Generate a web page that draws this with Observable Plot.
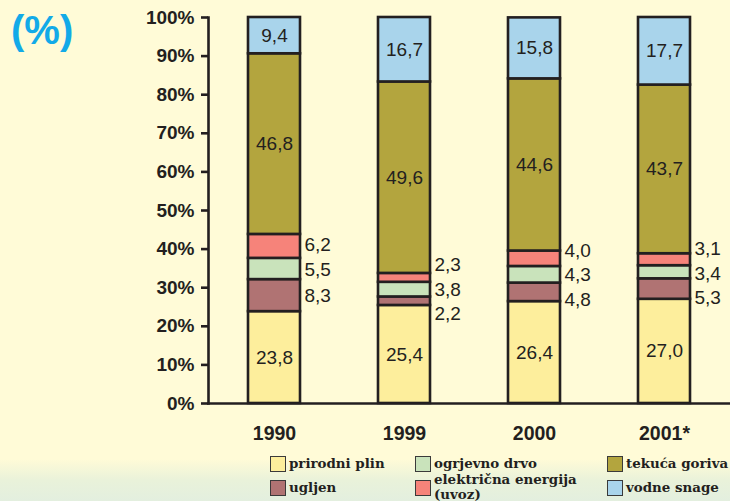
<!DOCTYPE html>
<html>
<head>
<meta charset="utf-8">
<script src="https://cdn.jsdelivr.net/npm/d3@7"></script>
<script src="https://cdn.jsdelivr.net/npm/@observablehq/plot@0.6"></script>
<style>
  html, body { margin: 0; padding: 0; }
  #wrap { position: relative; width: 730px; height: 501px; background: #fffbd7; overflow: hidden; font-family: "Liberation Sans", Arial, sans-serif; }
  #pct { position: absolute; left: 11px; top: 8px; font: bold 40px "Liberation Sans", Arial, sans-serif; color: #12aae8; }
  #legend { position: absolute; left: 0; top: 450px; width: 730px; height: 51px;
    background: linear-gradient(#fffbd7 0%, #fffbd7 18%, #e9f2da 60%, #e3efdf 100%); }
  .li { position: absolute; font: bold 13.4px "DejaVu Serif", "Liberation Serif", serif; color: #231f20; line-height: 15px; white-space: nowrap; }
  .sw { position: absolute; width: 14px; height: 14px; border: 1.5px solid #3a3a3a; }
</style>
</head>
<body>
<div id="wrap">
  <div id="chart"></div>
  <div id="pct">(%)</div>
  <div id="legend"></div>
</div>
<script>
const years = ["1990", "1999", "2000", "2001*"];
const series = ["prirodni plin", "ugljen", "ogrjevno drvo", "električna energija (uvoz)", "tekuća goriva", "vodne snage"];
const prirodniPlin = [23.8, 25.4, 26.4, 27.0];
const ugljen = [8.3, 2.2, 4.8, 5.3];
const ogrjevnoDrvo = [5.5, 3.8, 4.3, 3.4];
const elektricnaEnergija = [6.2, 2.3, 4.0, 3.1];
const tekucaGoriva = [46.8, 49.6, 44.6, 43.7];
const vodneSnage = [9.4, 16.7, 15.8, 17.7];
const yTicks = [0, 10, 20, 30, 40, 50, 60, 70, 80, 90, 100];
const colors = ["#fdee9c", "#b07373", "#c9e3bb", "#f6837a", "#b3a53e", "#a9d4eb"];
const insideSeries = ["prirodni plin", "tekuća goriva", "vodne snage"];

const values = [prirodniPlin, ugljen, ogrjevnoDrvo, elektricnaEnergija, tekucaGoriva, vodneSnage];

const W = 730, H = 450, ML = 208, MR = 0, MT = 17, MB = 47;
const step = (W - ML - MR) / years.length;
const plotH = H - MT - MB;
const tickLen = 8 * 100 / plotH;

const rows = [];
years.forEach((yr, i) => {
  series.forEach((s, j) => rows.push({year: yr, series: s, value: values[j][i]}));
});

const fmt = v => v.toFixed(1).replace(".", ",");
const inside = [], side = [];
years.forEach((yr, i) => {
  let acc = 0;
  const sideRow = [];
  series.forEach((s, j) => {
    const v = values[j][i];
    const mid = acc + v / 2;
    acc += v;
    const lab = {year: yr, series: s, y: mid, text: fmt(v)};
    if (insideSeries.includes(s)) inside.push(lab); else sideRow.push(lab);
  });
  const gap = 6.4;
  for (let it = 0; it < 50; it++) {
    for (let k = 1; k < sideRow.length; k++) {
      const d = sideRow[k].y - sideRow[k - 1].y;
      if (d < gap) {
        const push = (gap - d) / 2;
        sideRow[k].y += push;
        sideRow[k - 1].y -= push;
      }
    }
  }
  side.push(...sideRow);
});

const ink = "#231f20";
const chart = Plot.plot({
  width: W, height: H,
  marginLeft: ML, marginRight: MR, marginTop: MT, marginBottom: MB,
  style: {background: "transparent", fontFamily: "'Liberation Sans', Arial, sans-serif", color: ink},
  x: {domain: years, paddingInner: 0.6, paddingOuter: 0.3, label: null},
  y: {domain: [0, 100], clamp: true, label: null},
  color: {domain: series, range: colors},
  marks: [
    Plot.barY(rows, {x: "year", y: "value", fill: "series", stroke: ink, strokeWidth: 2.6}),
    Plot.frame({anchor: "left", stroke: ink, strokeWidth: 2.6}),
    Plot.frame({anchor: "bottom", stroke: ink, strokeWidth: 2.6}),
    Plot.ruleX(years, {x: d => d, dx: -step / 2, y1: 0, y2: -tickLen, stroke: ink, strokeWidth: 2.6}),
    Plot.ruleX(years.slice(-1), {x: d => d, dx: step / 2 - 1, y1: 0, y2: -tickLen, stroke: ink, strokeWidth: 2.6}),
    Plot.axisY({ticks: yTicks, tickSize: 7, tickPadding: 7, tickFormat: d => d + "%", fontSize: 19, fontWeight: "bold", color: ink, strokeWidth: 2.6, label: null}),
    Plot.axisX({tickSize: 0, tickPadding: 23, fontSize: 19.5, fontWeight: "bold", color: ink, label: null}),
    Plot.text(inside, {x: "year", y: "y", text: "text", fontSize: 19, fill: ink}),
    Plot.text(side, {x: "year", y: "y", text: "text", fontSize: 19, fill: ink, dx: 30, textAnchor: "start"})
  ]
});
document.getElementById("chart").appendChild(chart);

const legendPos = [
  {s: 0, x: 270, y: 6}, {s: 1, x: 270, y: 30},
  {s: 2, x: 415, y: 6}, {s: 3, x: 415, y: 30},
  {s: 4, x: 607, y: 6}, {s: 5, x: 607, y: 30}
];
const leg = document.getElementById("legend");
legendPos.forEach(p => {
  const sw = document.createElement("div");
  sw.className = "sw";
  sw.style.left = p.x + "px"; sw.style.top = p.y + "px";
  sw.style.background = colors[p.s];
  leg.appendChild(sw);
  if (p.s === 3) {
    ["električna energija", "(uvoz)"].forEach((line, k) => {
      const t = document.createElement("div");
      t.className = "li";
      t.style.left = (p.x + 19) + "px";
      t.style.top = (p.y - 8 + k * 15) + "px";
      t.style.lineHeight = "14px";
      t.textContent = line;
      leg.appendChild(t);
    });
  } else {
    const t = document.createElement("div");
    t.className = "li";
    t.style.left = (p.x + 19) + "px";
    t.style.top = p.y + "px";
    t.textContent = series[p.s];
    leg.appendChild(t);
  }
});
</script>
</body>
</html>
